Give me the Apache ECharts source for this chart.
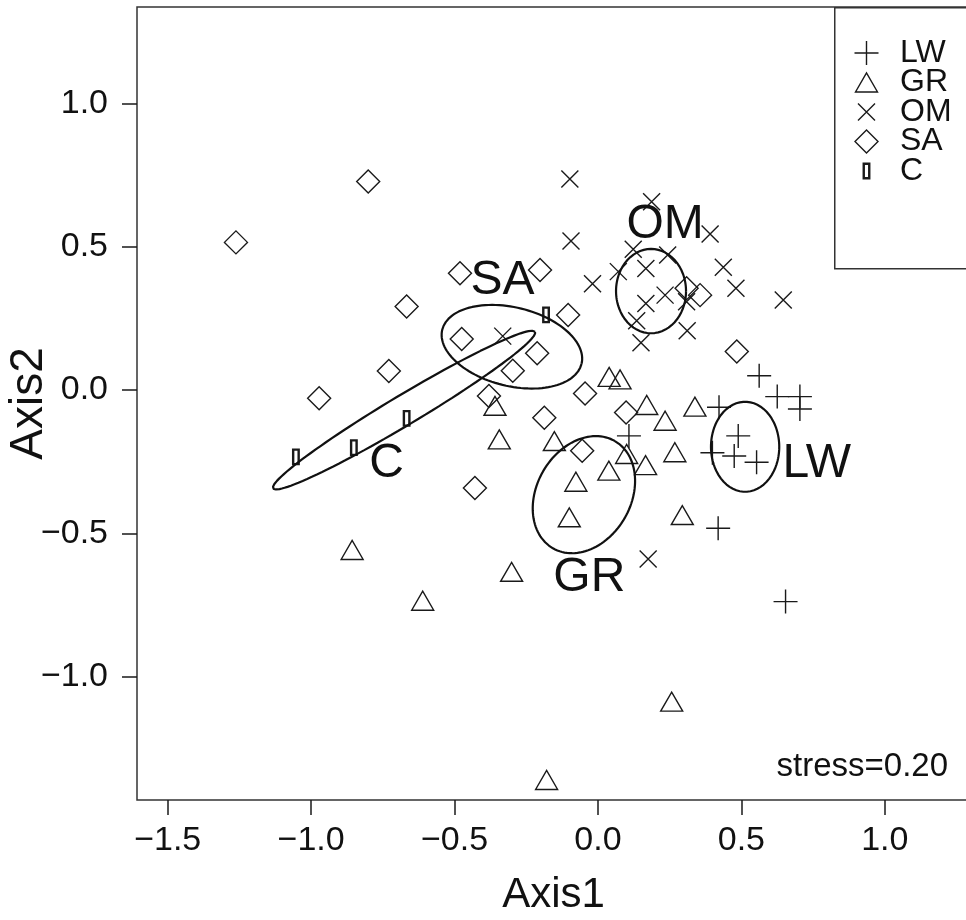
<!DOCTYPE html>
<html>
<head>
<meta charset="utf-8">
<script src="https://cdn.jsdelivr.net/npm/echarts@6/dist/echarts.min.js"></script>
<style>
  html, body { margin: 0; padding: 0; background: #fff; }
  #chart { width: 966px; height: 920px; }
</style>
</head>
<body>
<div id="chart"></div>
<script>
// ----------data----------
// NMDS scores, [Axis1, Axis2]
const lwPoints = [
  [0.562, 0.050], [0.625, -0.023], [0.704, -0.023], [0.704, -0.066],
  [0.422, -0.060], [0.489, -0.160], [0.399, -0.219], [0.475, -0.230],
  [0.553, -0.252], [0.419, -0.482], [0.654, -0.738], [0.108, -0.160]
];
const grPoints = [
  [0.039, 0.046], [0.077, 0.037], [0.170, -0.052], [0.338, -0.058],
  [0.234, -0.107], [-0.152, -0.178], [0.268, -0.217], [0.100, -0.223],
  [0.166, -0.262], [0.038, -0.281], [-0.077, -0.320], [-0.100, -0.444],
  [0.294, -0.436], [-0.359, -0.055], [-0.344, -0.172], [-0.857, -0.558],
  [-0.301, -0.634], [-0.611, -0.735], [0.257, -1.087], [-0.179, -1.360]
];
const omPoints = [
  [-0.098, 0.736], [-0.094, 0.520], [0.187, 0.657], [0.391, 0.544],
  [0.123, 0.491], [0.243, 0.471], [0.071, 0.413], [0.167, 0.424],
  [0.437, 0.428], [-0.019, 0.371], [0.481, 0.355], [0.234, 0.331],
  [0.167, 0.302], [0.646, 0.314], [0.309, 0.308], [0.135, 0.242],
  [0.311, 0.207], [0.150, 0.165], [-0.332, 0.188], [0.175, -0.589]
];
const saPoints = [
  [-0.801, 0.727], [-1.262, 0.515], [-0.481, 0.407], [-0.667, 0.291],
  [-0.475, 0.178], [-0.729, 0.066], [-0.972, -0.029], [-0.429, -0.342],
  [-0.202, 0.419], [-0.104, 0.262], [-0.212, 0.128], [-0.297, 0.067],
  [-0.380, -0.021], [-0.045, -0.012], [-0.187, -0.097], [0.098, -0.078],
  [-0.055, -0.212], [0.309, 0.355], [0.356, 0.331], [0.484, 0.134]
];
const cPoints = [
  [-1.053, -0.233], [-0.851, -0.201], [-0.667, -0.099], [-0.181, 0.262]
];

const groupNames = ['LW', 'GR', 'OM', 'SA', 'C'];

// group ellipses: [centre x, centre y, semi axis 1, semi axis 2, angle deg]
const groupEllipses = [
  [0.513, -0.198, 0.119, 0.157, 0],     // LW
  [-0.049, -0.365, 0.216, 0.164, 60],   // GR
  [0.185, 0.345, 0.122, 0.147, 0],      // OM
  [-0.300, 0.151, 0.250, 0.137, -13.8], // SA
  [-0.676, -0.070, 0.532, 0.052, 30.9]  // C
];

// group label anchors
const groupLabelPos = [
  [0.763, -0.256], [-0.030, -0.654], [0.234, 0.577], [-0.333, 0.380], [-0.737, -0.258]
];

const xTicks = [-1.5, -1.0, -0.5, 0.0, 0.5, 1.0];
const yTicks = [-1.0, -0.5, 0.0, 0.5, 1.0];
const stressText = 'stress=0.20';
// ------------------------

// ----------symbols----------
// all drawn in a 26x26 box so plot and legend share them
const symbolPaths = {
  LW: 'path://M0 0M26 26M13 1L13 25M1 13L25 13',
  GR: 'path://M0 0M26 26M2 22.5L24 22.5L13 3.5Z',
  OM: 'path://M0 0M26 26M4.5 4.5L21.5 21.5M21.5 4.5L4.5 21.5',
  SA: 'path://M0 0M26 26M13 1.5L24.5 13L13 24.5L1.5 13Z',
  C: 'path://M0 0M26 26M10.25 5.75L15.75 5.75L15.75 20.25L10.25 20.25Z'
};
const strokeW = { LW: 1.4, GR: 1.4, OM: 1.4, SA: 1.4, C: 2.4 };
const ink = '#1a1a1a';
const font = "'Liberation Sans', Arial, sans-serif";
// ---------------------------

const fmt = (v) => (v < 0 ? '\u2212' : '') + Math.abs(v).toFixed(1);

// ellipse outline in data units
const ellipseLine = (e) => {
  const [cx, cy, a, b, deg] = e;
  const th = deg * Math.PI / 180;
  const pts = [];
  for (let i = 0; i <= 120; i++) {
    const t = (i / 120) * Math.PI * 2;
    pts.push([
      cx + a * Math.cos(th) * Math.cos(t) - b * Math.sin(th) * Math.sin(t),
      cy + a * Math.sin(th) * Math.cos(t) + b * Math.cos(th) * Math.sin(t)
    ]);
  }
  return pts;
};

const pointSets = [lwPoints, grPoints, omPoints, saPoints, cPoints];

const scatterSeries = groupNames.map((name, i) => ({
  name,
  type: 'scatter',
  data: pointSets[i],
  symbol: symbolPaths[name],
  symbolSize: 26,
  itemStyle: { color: 'none', borderColor: ink, borderWidth: strokeW[name], opacity: 1 },
  emphasis: { disabled: true },
  silent: true,
  z: 2
}));

const ellipseSeries = groupEllipses.map((e) => ({
  type: 'line',
  data: ellipseLine(e),
  showSymbol: false,
  smooth: false,
  lineStyle: { color: '#111', width: 2.2 },
  emphasis: { disabled: true },
  silent: true,
  z: 3
}));

const labelSeries = {
  type: 'scatter',
  data: groupNames.map((name, i) => ({ name, value: groupLabelPos[i] })),
  symbolSize: 1,
  itemStyle: { color: 'none', opacity: 1 },
  label: {
    show: true,
    position: 'inside',
    formatter: '{b}',
    fontFamily: font,
    fontSize: 48,
    color: '#111'
  },
  emphasis: { disabled: true },
  silent: true,
  z: 4
};

const chart = echarts.init(document.getElementById('chart'), null, { renderer: 'canvas' });

chart.setOption({
  animation: false,
  backgroundColor: '#fff',
  grid: {
    left: 137,
    right: -4,
    top: 7,
    bottom: 120,
    outerBoundsMode: 'none',
    containLabel: false,
    show: true,
    borderColor: '#333',
    borderWidth: 1.5,
    backgroundColor: 'transparent'
  },
  xAxis: {
    type: 'value',
    min: -1.607,
    max: 1.297,
    name: 'Axis1',
    nameLocation: 'middle',
    nameGap: 74,
    nameMoveOverlap: false,
    nameTextStyle: { fontFamily: font, fontSize: 42, color: '#111' },
    axisLine: { show: false, onZero: false },
    splitLine: { show: false },
    axisTick: {
      show: true,
      length: 15,
      customValues: xTicks,
      lineStyle: { color: ink, width: 1.5 }
    },
    axisLabel: {
      customValues: xTicks,
      formatter: fmt,
      margin: 24,
      fontFamily: font,
      fontSize: 34,
      color: '#111'
    }
  },
  yAxis: {
    type: 'value',
    min: -1.430,
    max: 1.336,
    name: 'Axis2',
    nameLocation: 'middle',
    nameGap: 85,
    nameRotate: 90,
    nameMoveOverlap: false,
    nameTextStyle: { fontFamily: font, fontSize: 46, color: '#111' },
    axisLine: { show: false, onZero: false },
    splitLine: { show: false },
    axisTick: {
      show: true,
      length: 15,
      customValues: yTicks,
      lineStyle: { color: ink, width: 1.5 }
    },
    axisLabel: {
      customValues: yTicks,
      formatter: fmt,
      margin: 29,
      fontFamily: font,
      fontSize: 34,
      color: '#111'
    }
  },
  legend: {
    orient: 'vertical',
    left: 851,
    top: 37,
    padding: 0,
    itemWidth: 57,
    itemHeight: 26,
    itemGap: -2.5,
    selectedMode: false,
    textStyle: { fontFamily: font, fontSize: 32, color: '#111' },
    data: groupNames.map((name) => ({
      name,
      icon: symbolPaths[name],
      itemStyle: { color: 'none', borderColor: ink, borderWidth: strokeW[name], opacity: 1 }
    }))
  },
  graphic: [
    {
      // legend frame, runs off the right edge like the original
      type: 'rect',
      left: 834,
      top: 7,
      shape: { width: 200, height: 261 },
      style: { fill: '#fff', stroke: '#333', lineWidth: 1.5 },
      z: 1,
      silent: true
    },
    {
      type: 'text',
      right: 18,
      top: 750,
      style: {
        text: stressText,
        fontFamily: font,
        fontSize: 33,
        fill: '#111'
      }
    }
  ],
  series: [...scatterSeries, ...ellipseSeries, labelSeries]
});
</script>
</body>
</html>
